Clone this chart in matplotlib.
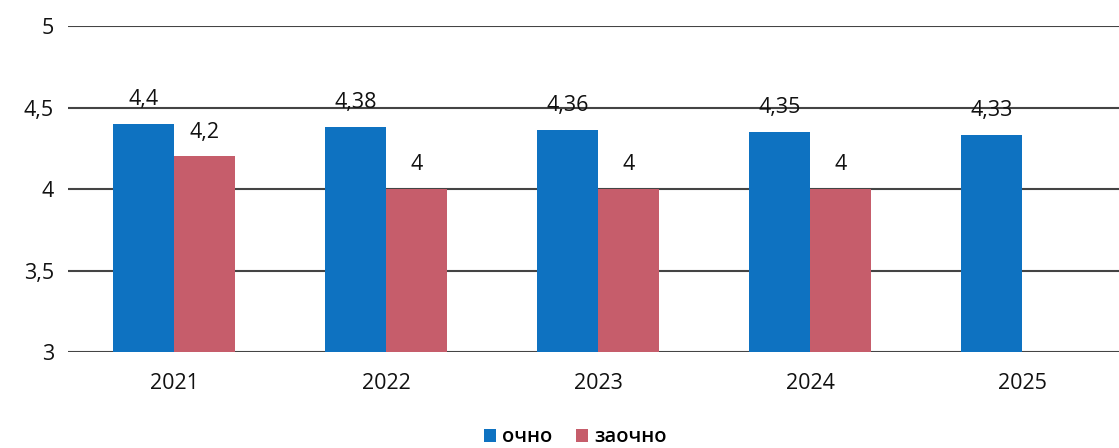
import numpy as np
import matplotlib.pyplot as plt
from matplotlib.ticker import FuncFormatter

plt.rcParams['font.family'] = ['Open Sans', 'DejaVu Sans']

years = ['2021', '2022', '2023', '2024', '2025']
ochno = [4.4, 4.38, 4.36, 4.35, 4.33]
zaochno = [4.2, 4.0, 4.0, 4.0, None]
ochno_labels = ['4,4', '4,38', '4,36', '4,35', '4,33']
zaochno_labels = ['4,2', '4', '4', '4', None]

blue = '#0e72c1'
red = '#c65d6b'
txt = '#111111'

fig = plt.figure(figsize=(11.19, 4.48), dpi=100)
ax = fig.add_axes([68 / 1119, 96 / 448, 1060 / 1119, 326 / 448])

x = np.arange(len(years))
w = 0.29
z_vals = [v if v is not None else 0 for v in zaochno]

b1 = ax.bar(x - w / 2, ochno, w, color=blue, label='очно', zorder=3)
b2 = ax.bar(x + w / 2, z_vals, w, color=red, label='заочно', zorder=3)

for i, lab in enumerate(ochno_labels):
    ax.annotate(lab, (x[i] - w / 2, ochno[i]), xytext=(0, 10), textcoords='offset points',
                ha='center', va='bottom', fontsize=15.5, color=txt)
for i, lab in enumerate(zaochno_labels):
    if lab is None:
        continue
    ax.annotate(lab, (x[i] + w / 2, zaochno[i]), xytext=(0, 10), textcoords='offset points',
                ha='center', va='bottom', fontsize=15.5, color=txt)

ax.set_ylim(3, 5)
ax.set_xlim(-0.5, len(years) - 0.5)
ax.set_yticks([3, 3.5, 4, 4.5, 5])
ax.yaxis.set_major_formatter(FuncFormatter(lambda v, p: f'{v:g}'.replace('.', ',')))
ax.set_xticks(x)
ax.set_xticklabels(years)
ax.tick_params(axis='both', length=0, labelsize=15.5, colors=txt)
ax.tick_params(axis='x', pad=15)
ax.tick_params(axis='y', pad=10)
ax.grid(axis='y', color='#444444', linewidth=1.5, zorder=0)
for s in ax.spines.values():
    s.set_visible(False)

fig.legend(handles=[b1, b2], loc='center', bbox_to_anchor=(0.514, 0.024), ncol=2, frameon=False,
           prop={'size': 14.5, 'weight': 'semibold'}, handlelength=0.6, handleheight=0.6,
           handletextpad=0.3, columnspacing=1.2)

fig.savefig('out.png', dpi=100)
